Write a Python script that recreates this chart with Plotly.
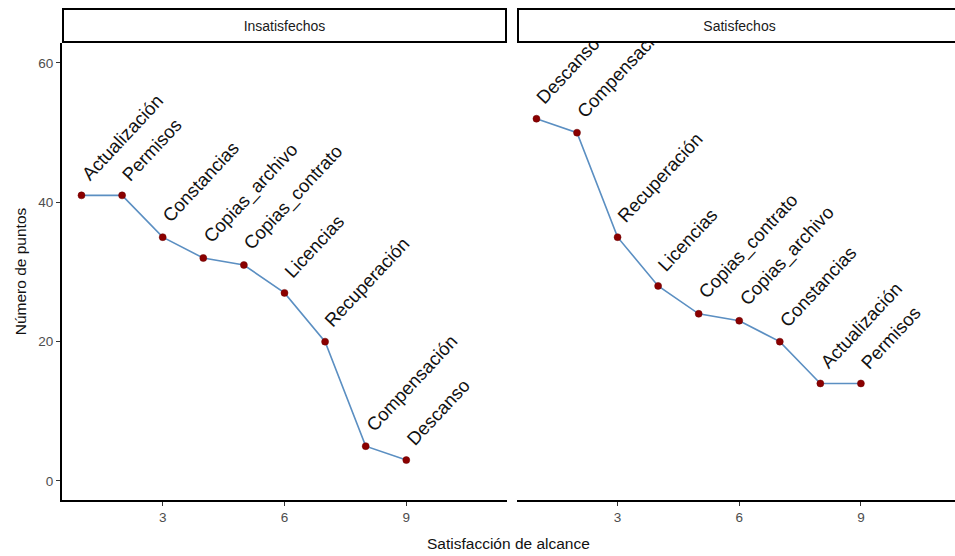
import plotly.graph_objects as go

# ---- data ----
x_vals = [1, 2, 3, 4, 5, 6, 7, 8, 9]
ins_labels = ["Actualización", "Permisos", "Constancias", "Copias_archivo", "Copias_contrato",
              "Licencias", "Recuperación", "Compensación", "Descanso"]
ins_values = [41, 41, 35, 32, 31, 27, 20, 5, 3]
sat_labels = ["Descanso", "Compensación", "Recuperación", "Licencias", "Copias_contrato",
              "Copias_archivo", "Constancias", "Actualización", "Permisos"]
sat_values = [52, 50, 35, 28, 24, 23, 20, 14, 14]
panels = ["Insatisfechos", "Satisfechos"]
x_ticks = [3, 6, 9]
y_ticks = [0, 20, 40, 60]

LINE = "#5b8fc2"
PT = "#8b0000"
FONT = "Liberation Sans, Arial, sans-serif"

fig = go.Figure()
for xa, ya, vals in [("x", "y", ins_values), ("x2", "y2", sat_values)]:
    fig.add_trace(go.Scatter(x=x_vals, y=vals, xaxis=xa, yaxis=ya, mode="lines+markers",
                             line=dict(color=LINE, width=1.6),
                             marker=dict(color=PT, size=7, line=dict(color="#6a0000", width=0.5)),
                             showlegend=False, hoverinfo="skip"))

annotations = []
for xr, yr, labs, vals in [("x", "y", ins_labels, ins_values), ("x2", "y2", sat_labels, sat_values)]:
    for xv, lab, v in zip(x_vals, labs, vals):
        annotations.append(dict(x=xv, y=v, xref=xr, yref=yr, text=lab, showarrow=False,
                                textangle=-47, xanchor="left", yanchor="bottom",
                                xshift=-7, yshift=8,
                                font=dict(family=FONT, size=18.5, color="#111111")))

# strip headers (drawn after labels so they cover overflow)
for xr, yr, name in [("x", "y domain", panels[0]), ("x2", "y2 domain", panels[1])]:
    annotations.append(dict(x=6, y=1, xref=xr, yref=yr, text=name, showarrow=False,
                            xanchor="center", yanchor="bottom", width=441, height=31,
                            bgcolor="white", bordercolor="black", borderwidth=2, borderpad=0,
                            font=dict(family=FONT, size=14, color="#1a1a1a")))

annotations.append(dict(x=0.5, y=0, xref="paper", yref="paper", yshift=-43, text="Satisfacción de alcance",
                        showarrow=False, xanchor="center", yanchor="middle",
                        font=dict(family=FONT, size=15.5, color="#111111")))

axis_common = dict(showgrid=False, zeroline=False, ticks="outside", ticklen=4, tickwidth=1.3,
                   tickcolor="#333333", tickfont=dict(family=FONT, size=13.5, color="#4d4d4d"))

fig.update_layout(
    width=955, height=556, margin=dict(l=62, r=0, t=43, b=56),
    paper_bgcolor="white", plot_bgcolor="white",
    annotations=annotations,
    xaxis=dict(domain=[0, 0.4983], range=[0.52, 11.48], tickvals=x_ticks, showline=True,
               linecolor="black", linewidth=2, anchor="y", **axis_common),
    xaxis2=dict(domain=[0.5095, 1], range=[0.52, 11.32], tickvals=x_ticks, showline=True,
                linecolor="black", linewidth=2, anchor="y2", **axis_common),
    yaxis=dict(domain=[0, 1], range=[-2.73, 62.87], tickvals=y_ticks, showline=True,
               linecolor="black", linewidth=2, anchor="x",
               title=dict(text="Número de puntos", font=dict(family=FONT, size=15.5, color="#111111"),
                          standoff=8),
               **axis_common),
    yaxis2=dict(domain=[0, 1], range=[-2.73, 62.87], tickvals=y_ticks, showticklabels=False,
                ticks="", showline=False, showgrid=False, zeroline=False, anchor="x2", matches="y"),
)

# remove the page's default body margin and scrollbars so the figure fills the window
fig.write_html("out.html", config={"displayModeBar": False},
               post_script="document.body.style.margin='0';document.body.style.overflow='hidden';")
